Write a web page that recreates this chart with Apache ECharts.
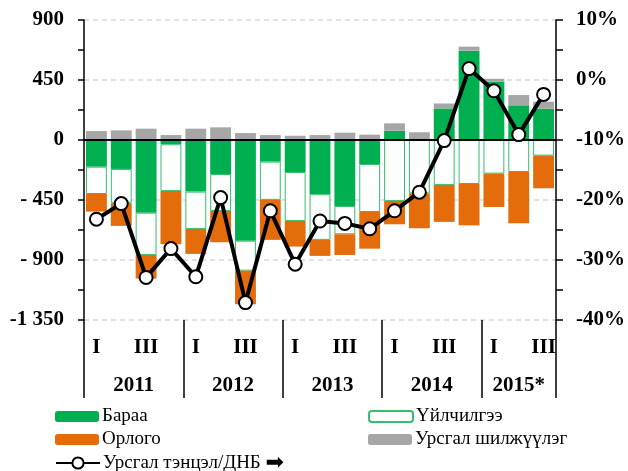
<!DOCTYPE html>
<html>
<head>
<meta charset="utf-8">
<script src="https://cdn.jsdelivr.net/npm/echarts@6/dist/echarts.min.js"></script>
<style>
  html, body { margin: 0; padding: 0; background: #fff; }
  #chart { width: 628px; height: 471px; }
</style>
</head>
<body>
<div id="chart"></div>
<script>
// quarters 2011 I .. 2015 III
var quarters = ['I', 'II', 'III', 'IV', 'I', 'II', 'III', 'IV', 'I', 'II', 'III', 'IV',
                'I', 'II', 'III', 'IV', 'I', 'II', 'III'];
var years = ['2011', '2012', '2013', '2014', '2015*'];
var yearBounds = [0, 4, 8, 12, 16, 19];

var goods = [-200, -217, -545, -32, -387, -255, -755, -162, -240, -407, -495, -180,
             70, 0, 237, 670, 437, 260, 235];
var services = [-205, -257, -317, -350, -280, -277, -225, -287, -367, -342, -212, -360,
                -457, -400, -337, -330, -252, -240, -117];
var income = [-132, -170, -177, -400, -187, -235, -252, -300, -192, -120, -155, -275,
              -175, -262, -277, -310, -250, -385, -245];
var transfers = [67, 72, 85, 37, 85, 95, 52, 37, 32, 37, 55, 40,
                 55, 58, 37, 30, 22, 77, 52];
var ratio = [-23.2, -20.6, -32.9, -28.1, -32.8, -19.6, -37.1, -21.8, -30.7, -23.5, -23.9, -24.8,
             -21.8, -18.7, -10.1, 1.9, -1.8, -9.1, -2.4];

var leftTicks = ['900', '450', '0', '- 450', '- 900', '-1 350'];

var serif = '"Liberation Serif", "Times New Roman", serif';
var axisFont = { fontFamily: serif, fontWeight: 'bold', fontSize: 21, color: '#000' };

var yearCenters = [];
for (var i = 0; i < years.length; i++) {
    yearCenters.push((yearBounds[i] + yearBounds[i + 1]) / 2);
}

function leftLabel(v) {
    var idx = Math.round((900 - v) / 450);
    if (Math.abs(v % 450) > 0.01) return '';
    return leftTicks[idx];
}

function legendAt(name, left, top) {
    return {
        data: [name],
        left: left,
        top: top,
        itemWidth: 44,
        itemHeight: 11,
        itemGap: 6,
        padding: 0,
        textStyle: { fontFamily: serif, fontSize: 19, color: '#000', padding: [0, 0, 0, -2] }
    };
}

var dom = document.getElementById('chart');
var myChart = echarts.init(dom);

var lineLegend = legendAt('Урсгал тэнцэл/ДНБ', 55, 452);
lineLegend.itemHeight = 14;
lineLegend.formatter = function (name) { return name + ' {arrow|➡}'; };
lineLegend.textStyle.rich = { arrow: { fontFamily: 'DejaVu Sans', fontSize: 22, color: '#000' } };

var option = {
    animation: false,
    backgroundColor: '#fff',
    grid: { left: 84, right: 70, top: 20, bottom: 151 },
    legend: [
        legendAt('Бараа', 55, 407),
        legendAt('Үйлчилгээ', 368, 407),
        legendAt('Орлого', 55, 430),
        legendAt('Урсгал шилжүүлэг', 368, 430),
        lineLegend
    ],
    xAxis: [{
        type: 'category',
        data: quarters,
        position: 'bottom',
        axisLine: { show: false, onZero: false },
        axisTick: { show: false },
        axisLabel: Object.assign({}, axisFont, {
            margin: 17,
            interval: 0,
            formatter: function (v, i) { return (i % 4 === 0 || i % 4 === 2) ? v : ''; }
        })
    }, {
        type: 'value',
        min: 0,
        max: 19,
        position: 'bottom',
        axisLine: { show: false, onZero: false },
        splitLine: { show: false },
        axisTick: {
            show: true,
            inside: false,
            customValues: yearBounds,
            length: 78,
            lineStyle: { color: '#000', width: 1.5 }
        },
        axisLabel: Object.assign({}, axisFont, {
            margin: 55,
            customValues: yearCenters,
            formatter: function (v) {
                var k = yearCenters.indexOf(v);
                return k >= 0 ? years[k] : '';
            }
        })
    }],
    yAxis: [{
        type: 'value',
        min: -1350,
        max: 900,
        interval: 450,
        axisLine: { show: true, lineStyle: { color: '#000', width: 1.5 } },
        axisTick: { show: true, length: 6, lineStyle: { color: '#000', width: 1.5 } },
        minorTick: { show: true, splitNumber: 2, length: 6, lineStyle: { color: '#000', width: 1.5 } },
        axisLabel: Object.assign({}, axisFont, { margin: 20, formatter: leftLabel }),
        splitLine: { show: true, lineStyle: { color: '#d9d9d9', type: [5, 4], width: 1.5 } }
    }, {
        type: 'value',
        min: -40,
        max: 10,
        interval: 10,
        position: 'right',
        axisLine: { show: true, lineStyle: { color: '#000', width: 1.5 } },
        axisTick: { show: true, length: 7, lineStyle: { color: '#000', width: 1.5 } },
        minorTick: { show: true, splitNumber: 2, length: 7, lineStyle: { color: '#000', width: 1.5 } },
        axisLabel: Object.assign({}, axisFont, { margin: 20, formatter: '{value}%' }),
        splitLine: { show: false }
    }],
    series: [{
        name: 'Бараа',
        type: 'bar',
        stack: 'ca',
        data: goods,
        barCategoryGap: '16%',
        itemStyle: { color: '#00b050' },
        markLine: {
            silent: true,
            symbol: 'none',
            label: { show: false },
            lineStyle: { color: '#000', width: 2, type: 'solid' },
            data: [{ yAxis: 0 }]
        }
    }, {
        name: 'Үйлчилгээ',
        type: 'bar',
        stack: 'ca',
        data: services,
        itemStyle: { color: '#fff', borderColor: '#33c070', borderWidth: 1 }
    }, {
        name: 'Орлого',
        type: 'bar',
        stack: 'ca',
        data: income,
        itemStyle: { color: '#e46c0a' }
    }, {
        name: 'Урсгал шилжүүлэг',
        type: 'bar',
        stack: 'ca',
        data: transfers,
        itemStyle: { color: '#a6a6a6' }
    }, {
        name: 'Урсгал тэнцэл/ДНБ',
        type: 'line',
        yAxisIndex: 1,
        data: ratio,
        symbol: 'circle',
        symbolSize: 13,
        lineStyle: { color: '#000', width: 4 },
        itemStyle: { color: '#fff', borderColor: '#000', borderWidth: 2 },
        z: 5
    }]
};

if (option && typeof option === 'object') {
    myChart.setOption(option, true);
}
</script>
</body>
</html>
